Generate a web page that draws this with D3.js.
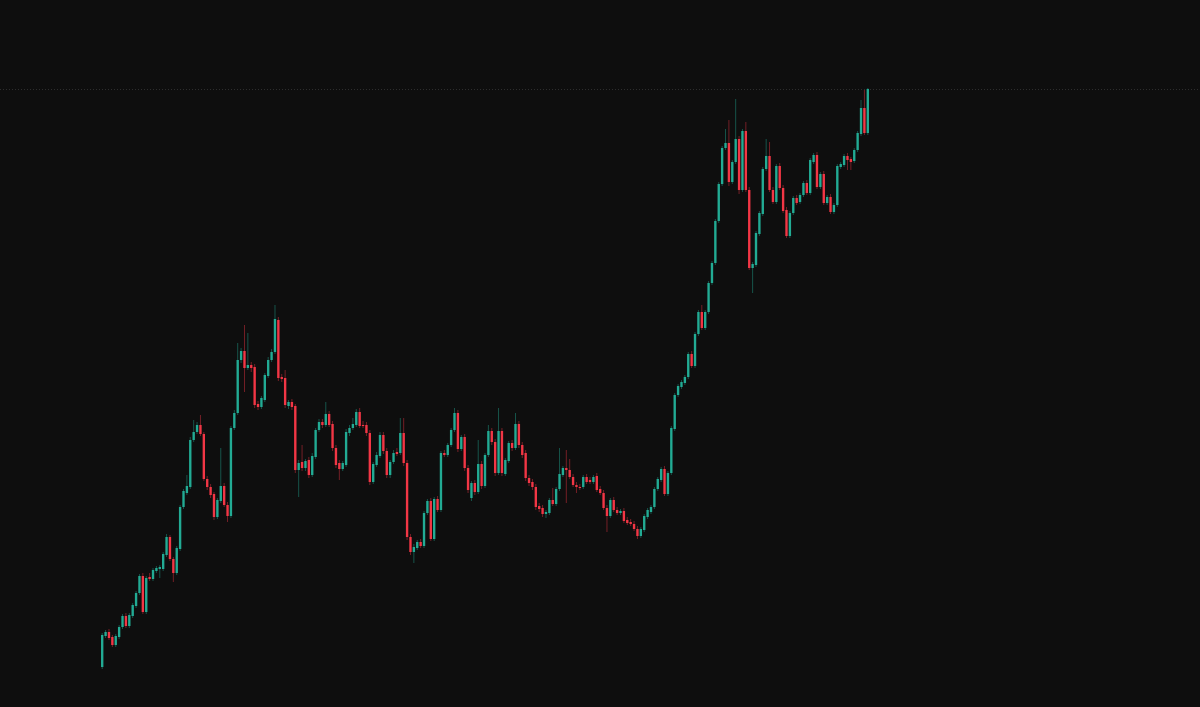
<!DOCTYPE html>
<html>
<head>
<meta charset="utf-8">
<script src="https://cdn.jsdelivr.net/npm/d3@7"></script>
<style>
html,body{margin:0;padding:0;background:#0e0e0e;overflow:hidden;}
svg{display:block;}
</style>
</head>
<body>
<svg id="chart" width="1200" height="707"></svg>
<script>
// OHLC values (arbitrary price units), one entry per candle, left to right
const open  = [33,64,68,63,55,63,73,84,74,84,94,107,124,88,123,121,129,131,131,145,163,141,127,151,193,207,213,260,268,275,266,221,213,206,183,199,214,195,184,272,287,340,349,332,335,333,296,293,300,324,340,348,380,323,322,294,298,294,230,238,232,240,225,243,270,278,275,286,276,252,237,231,235,267,272,275,288,275,275,267,218,235,244,265,249,225,238,248,247,267,237,163,148,152,158,154,187,199,161,201,190,247,245,255,270,287,251,263,232,202,217,208,236,214,245,269,258,227,269,226,239,257,252,276,255,247,222,218,213,194,192,186,187,200,196,211,225,232,230,223,215,213,213,223,220,218,224,211,207,192,184,200,190,187,189,180,178,176,171,164,170,183,188,193,211,220,231,206,227,271,305,313,317,323,346,334,366,388,372,388,417,437,479,516,552,557,518,538,561,510,569,510,432,435,466,486,531,544,510,498,534,512,490,464,487,502,498,505,517,507,538,545,513,526,497,503,488,495,533,535,544,541,539,550,566,592,567];
const high  = [67,70,71,65,66,75,86,87,87,97,109,126,127,124,127,132,134,135,148,166,165,143,154,195,211,225,263,280,278,285,268,224,216,208,202,252,217,198,274,290,357,352,375,367,338,336,299,304,327,343,351,395,383,326,330,300,301,296,240,255,241,243,247,272,281,281,298,289,279,255,240,239,271,275,282,291,292,279,278,270,238,248,268,268,252,240,250,252,282,282,240,166,156,160,161,189,201,202,203,204,249,250,257,272,292,290,265,266,235,219,220,260,239,247,275,272,261,292,272,242,259,260,287,279,258,250,225,221,216,197,195,190,202,212,213,252,234,250,241,226,218,216,225,226,223,225,227,214,210,195,202,203,193,191,192,183,181,179,174,173,186,192,195,213,223,233,234,229,274,307,316,320,325,348,349,368,390,395,390,419,439,481,518,554,571,580,540,601,564,571,578,513,438,469,489,533,561,558,513,536,537,515,493,489,504,505,507,519,520,542,547,548,528,529,505,506,497,536,538,546,547,543,552,569,600,610,612];
const low   = [31,62,60,53,53,61,71,72,72,82,92,105,86,86,119,119,127,122,129,143,139,118,125,149,191,205,211,258,266,264,219,210,202,180,181,197,193,178,182,270,285,337,308,330,328,292,290,291,298,322,338,346,319,318,292,291,290,227,203,229,229,222,223,241,268,272,273,273,249,232,220,229,233,264,270,273,272,272,264,215,216,233,242,246,222,222,236,244,245,234,160,145,137,150,152,152,185,159,159,188,188,243,243,253,268,248,249,229,207,199,205,206,211,212,243,255,224,225,224,224,237,249,250,252,242,219,214,210,190,188,183,182,185,194,194,209,223,197,221,213,207,210,211,216,216,216,208,205,190,168,182,188,185,185,177,175,174,169,161,162,168,181,186,191,209,218,204,204,225,269,303,311,315,321,332,332,364,370,370,386,415,435,477,514,550,514,516,536,506,508,508,430,407,433,464,484,529,508,496,496,510,487,462,462,485,495,496,503,505,505,536,511,511,495,495,486,486,493,531,533,530,530,537,548,564,565,565];
const close = [65,68,62,55,64,73,84,74,85,95,107,124,88,122,121,130,132,133,146,163,141,127,152,193,209,214,260,268,275,266,221,213,205,183,200,214,195,184,272,287,340,349,332,335,332,295,293,302,325,340,348,381,322,321,295,298,293,230,237,232,239,225,244,270,278,275,286,275,252,235,231,237,268,272,276,288,274,274,267,218,236,245,265,249,225,238,247,246,267,237,163,148,153,158,154,187,199,161,201,190,247,245,255,270,287,251,263,232,210,217,208,236,214,245,269,258,227,269,227,240,257,252,276,255,245,222,217,213,193,191,186,188,200,196,211,226,232,230,223,215,213,212,223,218,218,223,210,207,192,184,200,190,187,189,179,177,176,171,164,171,184,190,193,211,221,231,206,227,272,305,314,318,323,346,334,366,388,372,388,417,437,479,516,552,557,518,538,561,510,569,510,432,436,467,487,531,544,510,498,534,512,489,464,487,502,497,505,517,507,540,545,513,526,497,503,488,495,534,536,544,540,538,550,567,592,567,611];

const upColor = "#22ab94";
const downColor = "#f23645";

const W = 1200, H = 707;
const svg = d3.select("#chart");
svg.append("rect").attr("width", W).attr("height", H).attr("fill", "#0e0e0e");

const idx = d3.range(close.length);
const x = d3.scaleBand().domain(idx).range([100, 870]).padding(0.3);
const y = d3.scaleLinear().domain([0, 700]).range([700, 0]);

const data = idx.map(i => ({i, o: open[i], h: high[i], l: low[i], c: close[i]}));

// last price dotted line
svg.append("line")
  .attr("x1", 0).attr("x2", W)
  .attr("y1", Math.round(y(close[close.length - 1])) + 0.5)
  .attr("y2", Math.round(y(close[close.length - 1])) + 0.5)
  .attr("stroke", "#2e2e2e").attr("stroke-width", 1)
  .attr("stroke-dasharray", "1,2");

const g = svg.append("g");
const cx = d => x(d.i) + x.bandwidth() / 2;

g.selectAll("line.wick").data(data).join("line")
  .attr("class", "wick")
  .attr("x1", cx).attr("x2", cx)
  .attr("y1", d => y(d.h)).attr("y2", d => y(d.l))
  .attr("stroke", d => d.c >= d.o ? upColor : downColor)
  .attr("stroke-opacity", 0.45)
  .attr("stroke-width", 1);

g.selectAll("rect.body").data(data).join("rect")
  .attr("class", "body")
  .attr("x", d => x(d.i))
  .attr("width", x.bandwidth())
  .attr("y", d => y(Math.max(d.o, d.c)))
  .attr("height", d => Math.max(1, Math.abs(y(d.o) - y(d.c))))
  .attr("fill", d => d.c >= d.o ? upColor : downColor);
</script>
</body>
</html>
